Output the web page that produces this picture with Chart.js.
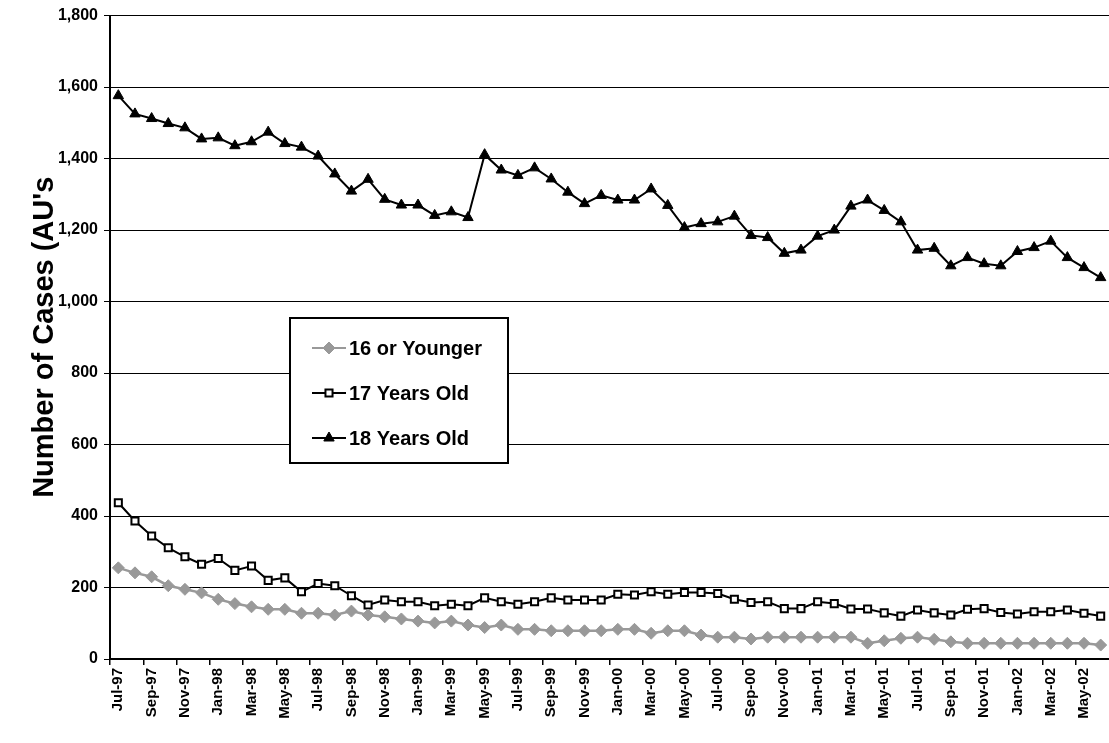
<!DOCTYPE html>
<html>
<head>
<meta charset="utf-8">
<script src="https://cdn.jsdelivr.net/npm/chart.js@4/dist/chart.umd.min.js"></script>
<style>
  html, body { margin: 0; padding: 0; background: #fff; overflow: hidden; }
  canvas { display: block; }
</style>
</head>
<body>
<canvas id="casesChart" width="1109" height="743"></canvas>
<script>
const months = [
  "Jul-97", "Aug-97", "Sep-97", "Oct-97", "Nov-97", "Dec-97",
  "Jan-98", "Feb-98", "Mar-98", "Apr-98", "May-98", "Jun-98",
  "Jul-98", "Aug-98", "Sep-98", "Oct-98", "Nov-98", "Dec-98",
  "Jan-99", "Feb-99", "Mar-99", "Apr-99", "May-99", "Jun-99",
  "Jul-99", "Aug-99", "Sep-99", "Oct-99", "Nov-99", "Dec-99",
  "Jan-00", "Feb-00", "Mar-00", "Apr-00", "May-00", "Jun-00",
  "Jul-00", "Aug-00", "Sep-00", "Oct-00", "Nov-00", "Dec-00",
  "Jan-01", "Feb-01", "Mar-01", "Apr-01", "May-01", "Jun-01",
  "Jul-01", "Aug-01", "Sep-01", "Oct-01", "Nov-01", "Dec-01",
  "Jan-02", "Feb-02", "Mar-02", "Apr-02", "May-02", "Jun-02"
];

const age16 = [255, 241, 230, 205, 195, 185, 167, 155, 146, 139, 139, 128,
  128, 123, 134, 123, 118, 112, 106, 101, 106, 95, 88, 95,
  83, 83, 79, 79, 79, 79, 83, 83, 72, 79, 79, 67,
  61, 61, 56, 61, 61, 61, 61, 61, 61, 44, 51, 58,
  61, 55, 48, 44, 44, 44, 44, 44, 44, 44, 44, 39];

const age17 = [437, 386, 344, 311, 286, 265, 281, 248, 260, 220, 227, 188,
  211, 205, 177, 151, 165, 160, 160, 149, 153, 149, 171, 160,
  153, 160, 171, 165, 165, 165, 181, 179, 188, 181, 186, 186,
  183, 167, 158, 160, 141, 141, 160, 155, 140, 140, 129, 120,
  137, 129, 123, 139, 141, 130, 126, 132, 132, 137, 128, 120];

const age18 = [1576, 1525, 1512, 1498, 1486, 1455, 1458, 1436, 1447, 1474, 1442, 1432,
  1407, 1357, 1309, 1342, 1286, 1270, 1270, 1241, 1251, 1235, 1411, 1368,
  1353, 1374, 1343, 1306, 1274, 1297, 1284, 1284, 1315, 1269, 1207, 1218,
  1223, 1239, 1185, 1179, 1135, 1144, 1183, 1200, 1267, 1284, 1255, 1223,
  1144, 1149, 1100, 1123, 1106, 1100, 1140, 1151, 1169, 1123, 1095, 1067];

const FONT = "'Liberation Sans', Arial, sans-serif";

// legend box drawn inside the plot area, like the original
const boxLegend = {
  id: "boxLegend",
  afterDraw(chart) {
    const ctx = chart.ctx;
    const area = chart.chartArea;
    const x0 = area.left + 180, y0 = 318, w = 218, h = 145;
    ctx.save();
    ctx.fillStyle = "#fff";
    ctx.fillRect(x0, y0, w, h);
    ctx.strokeStyle = "#000";
    ctx.lineWidth = 2;
    ctx.strokeRect(x0, y0, w, h);
    chart.data.datasets.forEach((ds, i) => {
      const y = y0 + 30 + i * 45;
      ctx.strokeStyle = ds.borderColor;
      ctx.lineWidth = 2;
      ctx.beginPath();
      ctx.moveTo(x0 + 22, y);
      ctx.lineTo(x0 + 56, y);
      ctx.stroke();
      ctx.fillStyle = ds.pointBackgroundColor;
      ctx.strokeStyle = ds.pointBorderColor;
      ctx.lineWidth = ds.pointBorderWidth;
      Chart.helpers.drawPoint(ctx, {
        pointStyle: ds.pointStyle,
        radius: ds.pointRadius,
        borderWidth: ds.pointBorderWidth,
        rotation: 0
      }, x0 + 39, y);
      ctx.fillStyle = "#000";
      ctx.font = "bold 20px " + FONT;
      ctx.textBaseline = "middle";
      ctx.fillText(ds.label, x0 + 59, y + 1);
    });
    ctx.restore();
  }
};

new Chart(document.getElementById("casesChart"), {
  type: "line",
  data: {
    labels: months,
    datasets: [
      {
        label: "16 or Younger",
        data: age16,
        borderColor: "#999999",
        borderWidth: 2.5,
        pointStyle: "rectRot",
        pointRadius: 6,
        pointBackgroundColor: "#999999",
        pointBorderColor: "#999999",
        pointBorderWidth: 1
      },
      {
        label: "17 Years Old",
        data: age17,
        borderColor: "#000000",
        borderWidth: 2,
        pointStyle: "rect",
        pointRadius: 5,
        pointBackgroundColor: "#ffffff",
        pointBorderColor: "#000000",
        pointBorderWidth: 2
      },
      {
        label: "18 Years Old",
        data: age18,
        borderColor: "#000000",
        borderWidth: 2,
        pointStyle: "triangle",
        pointRadius: 6,
        pointBackgroundColor: "#000000",
        pointBorderColor: "#000000",
        pointBorderWidth: 1
      }
    ]
  },
  options: {
    responsive: false,
    animation: false,
    layout: { autoPadding: false, padding: { left: 24, top: 14, right: 0, bottom: 0 } },
    plugins: {
      legend: { display: false },
      tooltip: { enabled: false }
    },
    elements: { line: { tension: 0 } },
    scales: {
      x: {
        offset: true,
        border: { color: "#000", width: 2 },
        grid: {
          offset: true,
          drawOnChartArea: false,
          tickLength: 6,
          lineWidth: 1.5,
          color: ctx => (ctx.index % 2 === 0 ? "#000" : "rgba(0,0,0,0)")
        },
        ticks: {
          autoSkip: false,
          minRotation: 90,
          maxRotation: 90,
          padding: 3,
          color: "#000",
          font: { family: FONT, size: 15, weight: "bold" },
          callback: (v, i) => (i % 2 === 0 ? months[i] : "")
        },
        afterFit: s => {
          s.height = 84;
          s.paddingLeft = 0;
          s.paddingRight = 0;
        }
      },
      y: {
        min: 0,
        max: 1800,
        border: { color: "#000", width: 2 },
        grid: { color: "#000", lineWidth: 1, tickLength: 6 },
        ticks: {
          stepSize: 200,
          padding: 6,
          color: "#000",
          font: { family: FONT, size: 16, weight: "bold" }
        },
        title: {
          display: true,
          text: "Number of Cases (AU's",
          color: "#000",
          padding: { top: 4, bottom: 0 },
          font: { family: FONT, size: 29, weight: "bold" }
        },
        afterFit: s => { s.width = 86; }
      }
    }
  },
  plugins: [boxLegend]
});
</script>
</body>
</html>
